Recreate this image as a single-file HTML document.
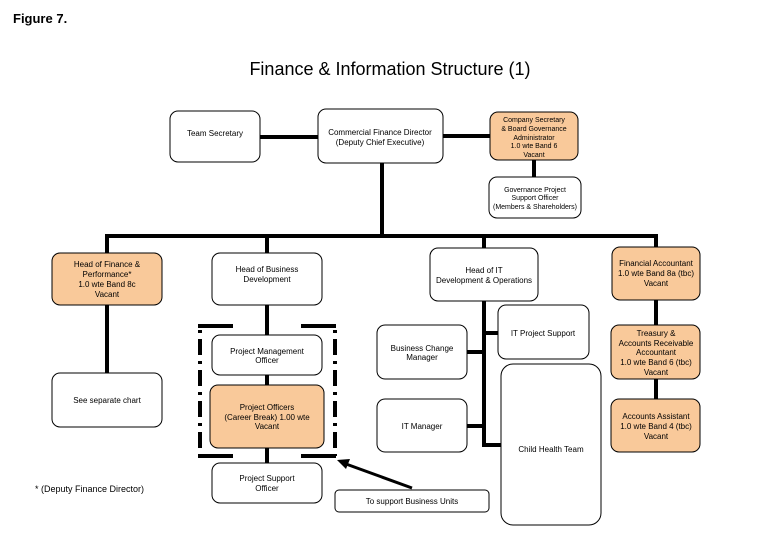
<!DOCTYPE html>
<html><head><meta charset="utf-8"><style>
html,body{margin:0;padding:0;background:#fff;}
svg{display:block;}
text{font-family:"Liberation Sans",sans-serif;}
.s{font-size:8px;fill:#000;}
</style></head><body>
<svg width="780" height="540" viewBox="0 0 780 540" xmlns="http://www.w3.org/2000/svg">
<text x="13" y="23" font-size="13" font-weight="bold">Figure 7.</text>
<text x="390" y="75" font-size="18" text-anchor="middle">Finance &amp; Information Structure (1)</text>

<g stroke="#000" stroke-width="4" fill="none">
<line x1="260" y1="137" x2="318" y2="137"/>
<line x1="443" y1="136" x2="490" y2="136"/>
<line x1="534" y1="160" x2="534" y2="177"/>
<line x1="382" y1="163" x2="382" y2="236"/>
<line x1="105" y1="236" x2="658" y2="236"/>
<line x1="107" y1="236" x2="107" y2="253"/>
<line x1="267" y1="236" x2="267" y2="253"/>
<line x1="484" y1="236" x2="484" y2="248"/>
<line x1="656" y1="236" x2="656" y2="247"/>
<line x1="107" y1="305" x2="107" y2="373"/>
<line x1="267" y1="305" x2="267" y2="335"/>
<line x1="267" y1="375" x2="267" y2="385"/>
<line x1="267" y1="448" x2="267" y2="463"/>
<line x1="484" y1="301" x2="484" y2="447"/>
<line x1="484" y1="333" x2="499" y2="333"/>
<line x1="467" y1="352" x2="484" y2="352"/>
<line x1="467" y1="426" x2="484" y2="426"/>
<line x1="484" y1="445" x2="502" y2="445"/>
<line x1="656" y1="300" x2="656" y2="325"/>
<line x1="656" y1="379" x2="656" y2="399"/>
<line x1="412" y1="488" x2="346" y2="464" stroke-width="3"/>
</g>
<polygon points="337,460 350,459 346,469" fill="#000"/>

<g stroke="#000" stroke-width="4" fill="none">
<line x1="198" y1="326" x2="233" y2="326"/>
<line x1="301" y1="326" x2="336" y2="326"/>
<line x1="198" y1="456" x2="233" y2="456"/>
<line x1="301" y1="456" x2="336" y2="456"/>
<line x1="200" y1="330" x2="200" y2="456" stroke-dasharray="3,6,16,6"/>
<line x1="335" y1="330" x2="335" y2="456" stroke-dasharray="3,6,16,6"/>
</g>

<g stroke="#000" stroke-width="1">
<rect x="170" y="111" width="90" height="51" rx="8" fill="#fff"/>
<rect x="318" y="109" width="125" height="54" rx="8" fill="#fff"/>
<rect x="490" y="112" width="88" height="48" rx="8" fill="#f9c99a"/>
<rect x="489" y="177" width="92" height="41" rx="8" fill="#fff"/>
<rect x="52" y="253" width="110" height="52" rx="8" fill="#f9c99a"/>
<rect x="212" y="253" width="110" height="52" rx="8" fill="#fff"/>
<rect x="430" y="248" width="108" height="53" rx="8" fill="#fff"/>
<rect x="612" y="247" width="88" height="53" rx="8" fill="#f9c99a"/>
<rect x="52" y="373" width="110" height="54" rx="8" fill="#fff"/>
<rect x="212" y="335" width="110" height="40" rx="8" fill="#fff"/>
<rect x="210" y="385" width="114" height="63" rx="8" fill="#f9c99a"/>
<rect x="212" y="463" width="110" height="40" rx="8" fill="#fff"/>
<rect x="498" y="305" width="91" height="54" rx="8" fill="#fff"/>
<rect x="377" y="325" width="90" height="54" rx="8" fill="#fff"/>
<rect x="377" y="399" width="90" height="53" rx="8" fill="#fff"/>
<rect x="501" y="364" width="100" height="161" rx="12" fill="#fff"/>
<rect x="611" y="325" width="89" height="54" rx="8" fill="#f9c99a"/>
<rect x="611" y="399" width="89" height="53" rx="8" fill="#f9c99a"/>
<rect x="335" y="490" width="154" height="22" rx="4" fill="#fff"/>
</g>

<g class="s" text-anchor="middle">
<text x="215" y="136">Team Secretary</text>
<text x="380" y="135">Commercial Finance  Director</text>
<text x="380" y="145">(Deputy Chief Executive)</text>
<text x="534" y="122" font-size="7">Company Secretary</text>
<text x="534" y="131" font-size="7">&amp; Board Governance</text>
<text x="534" y="140" font-size="7">Administrator</text>
<text x="534" y="148" font-size="7">1.0 wte Band 6</text>
<text x="534" y="157" font-size="7">Vacant</text>
<text x="535" y="192" font-size="7">Governance Project</text>
<text x="535" y="200" font-size="7">Support Officer</text>
<text x="535" y="209" font-size="7">(Members &amp; Shareholders)</text>
<text x="107" y="267">Head of Finance &amp;</text>
<text x="107" y="277">Performance*</text>
<text x="107" y="287">1.0 wte Band 8c</text>
<text x="107" y="297">Vacant</text>
<text x="267" y="272">Head of Business</text>
<text x="267" y="282">Development</text>
<text x="484" y="273">Head of IT</text>
<text x="484" y="283">Development &amp; Operations</text>
<text x="656" y="266">Financial Accountant</text>
<text x="656" y="276">1.0 wte Band 8a (tbc)</text>
<text x="656" y="286">Vacant</text>
<text x="107" y="403">See separate chart</text>
<text x="267" y="354">Project Management</text>
<text x="267" y="363">Officer</text>
<text x="267" y="410">Project Officers</text>
<text x="267" y="420">(Career Break) 1.00 wte</text>
<text x="267" y="429">Vacant</text>
<text x="267" y="481">Project Support</text>
<text x="267" y="491">Officer</text>
<text x="543" y="336">IT Project Support</text>
<text x="422" y="351">Business Change</text>
<text x="422" y="360">Manager</text>
<text x="422" y="429">IT Manager</text>
<text x="551" y="452">Child Health Team</text>
<text x="656" y="336">Treasury &amp;</text>
<text x="656" y="346">Accounts Receivable</text>
<text x="656" y="355">Accountant</text>
<text x="656" y="365">1.0 wte Band 6 (tbc)</text>
<text x="656" y="375">Vacant</text>
<text x="656" y="419">Accounts Assistant</text>
<text x="656" y="429">1.0 wte Band 4 (tbc)</text>
<text x="656" y="439">Vacant</text>
<text x="412" y="504">To support Business Units</text>
</g>
<text x="35" y="492" font-size="9">* (Deputy Finance Director)</text>
</svg>
</body></html>
